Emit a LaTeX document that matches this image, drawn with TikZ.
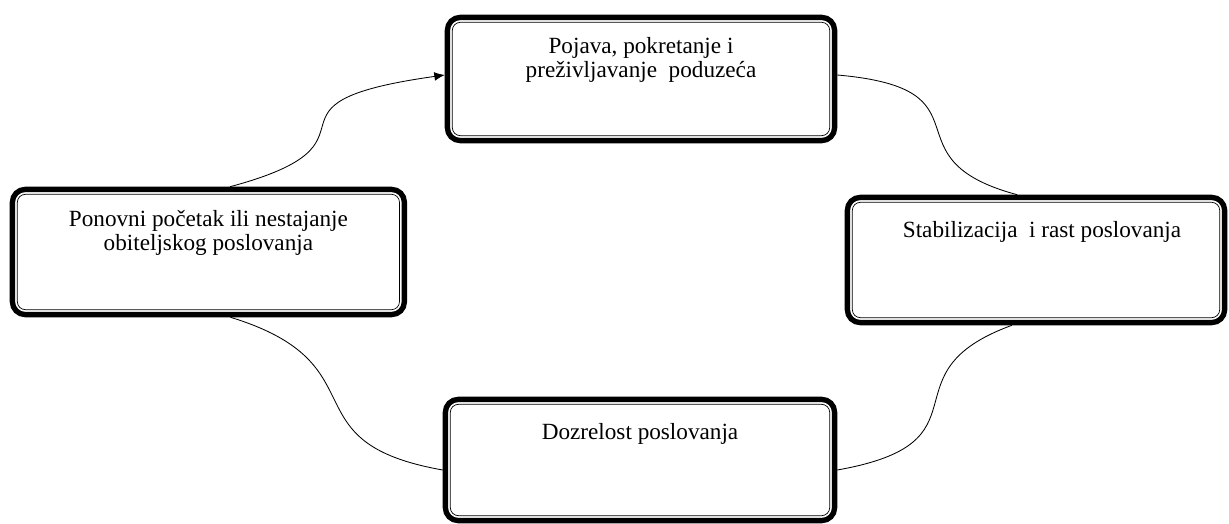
\documentclass[tikz,border=0pt]{standalone}
\usepackage{fontspec}
\setmainfont{Liberation Serif}
\usetikzlibrary{positioning}
\usetikzlibrary{calc}
\usetikzlibrary{arrows.meta}

\tikzset{
  stage/.style={draw, line width=3.8pt, rounded corners=0.32cm, fill=white},
  stagetext/.style={align=center, inner sep=0pt, font=\fontsize{16.5}{17.5}\selectfont},
  link/.style={line width=0.6pt}
}

\begin{document}
\begin{tikzpicture}
\useasboundingbox (0,0) rectangle (30.725,13.075);
% Stages
\node [stage, minimum width=9.68cm, minimum height=3.08cm] (pojava) at (16.025,11.1) {};
\node [stage, minimum width=9.8cm, minimum height=3.13cm] (ponovni) at (5.21,6.775) {};
\node [stage, minimum width=9.43cm, minimum height=3.13cm] (rast) at (25.9,6.575) {};
\node [stage, minimum width=9.73cm, minimum height=3.03cm] (zrelost) at (16.0,1.575) {};
\foreach \n in {pojava,ponovni,rast,zrelost}
  \draw [line width=0.5pt, rounded corners=0.2cm] ($(\n.south west)+(0.19,0.19)$) rectangle ($(\n.north east)-(0.19,0.19)$);
% Labels
\node [stagetext, below=0.55cm of pojava.north] (pojavatext) {Pojava, pokretanje i\\preživljavanje\ \ poduzeća};
\node [stagetext, below=0.58cm of ponovni.north] (ponovnitext) {Ponovni početak ili nestajanje\\obiteljskog poslovanja};
\node [stagetext, below=0.65cm of rast.north, xshift=0.15cm] (rasttext) {Stabilizacija\ \ i rast poslovanja};
\node [stagetext, below=0.65cm of zrelost.north] (zrelosttext) {Dozrelost poslovanja};
% Links
\draw [link, -{Latex[length=0.26cm, width=0.22cm]}] ([xshift=0.54cm]ponovni.north) .. controls +(15:4.4) and +(188:5.2) .. ([yshift=0.1cm]pojava.west);
\draw [link] ([yshift=0.1cm]pojava.east) .. controls +(-5:4) and +(165:3.5) .. ([xshift=-0.47cm]rast.north);
\draw [link] ([xshift=-0.6cm]rast.south) .. controls +(200:3.5) and +(10:4) .. ([yshift=-0.25cm]zrelost.east);
\draw [link] ([yshift=-0.25cm]zrelost.west) .. controls +(170:4) and +(-17:4) .. ([xshift=0.55cm]ponovni.south);
\end{tikzpicture}
\end{document}
